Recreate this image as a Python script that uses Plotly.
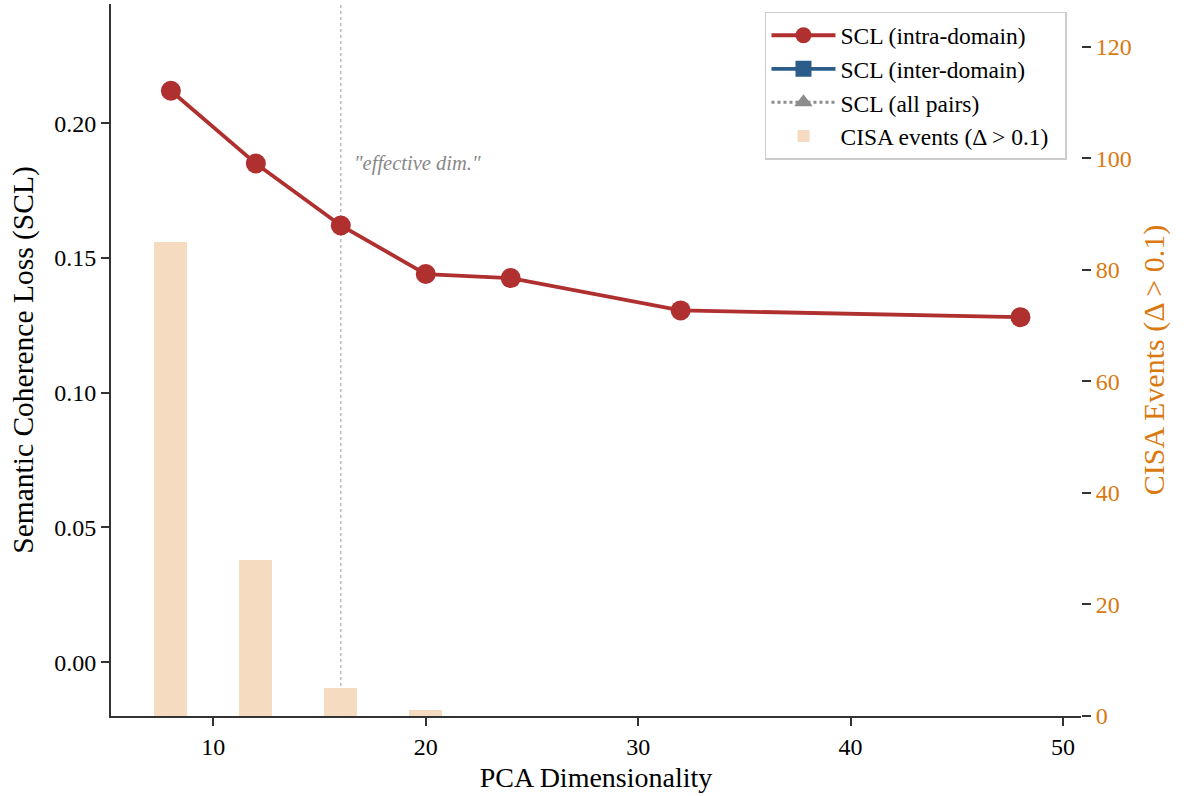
import plotly.graph_objects as go

dims = [8, 12, 16, 20, 24, 32, 48]
scl_intra = [0.212, 0.185, 0.162, 0.144, 0.1425, 0.1305, 0.128]
scl_inter = [None]
scl_all = [None]
cisa_dims = [8, 12, 16, 20]
cisa_events = [85, 28, 5, 1]
effective_dim = 16

FONT = "Liberation Serif"
ORANGE = "#d9790f"
RED = "#b03030"

fig = go.Figure()

fig.add_trace(go.Bar(
    x=cisa_dims, y=cisa_events, width=1.55, yaxis="y",
    marker=dict(color="#f5dcc1", line=dict(width=0)),
    name="CISA events (Δ > 0.1)\u00a0\u00a0", legendrank=4,
))
fig.add_trace(go.Scatter(
    x=dims, y=scl_intra, yaxis="y2", mode="lines+markers",
    line=dict(color=RED, width=3.8), marker=dict(size=20, color=RED),
    name="SCL (intra-domain)", legendrank=1,
))
fig.add_trace(go.Scatter(
    x=[None], y=scl_inter, yaxis="y2", mode="lines+markers",
    line=dict(color="#2c5d8a", width=3.8), marker=dict(size=16, symbol="square", color="#2c5d8a"),
    name="SCL (inter-domain)", legendrank=2,
))
fig.add_trace(go.Scatter(
    x=[None], y=scl_all, yaxis="y2", mode="lines+markers",
    line=dict(color="#8c8c8c", width=3, dash="dot"), marker=dict(size=16, symbol="triangle-up", color="#8c8c8c"),
    name="SCL (all pairs)", legendrank=3,
))

fig.add_shape(type="line", x0=effective_dim, x1=effective_dim, y0=0, y1=1,
              xref="x", yref="paper", line=dict(color="#bbbbbb", width=1.5, dash="dot"), layer="below")
fig.add_annotation(x=effective_dim + 0.55, y=0.1852, xref="x", yref="y2", text="<i>\"effective dim.\"</i>",
                   showarrow=False, xanchor="left", yanchor="middle",
                   font=dict(family=FONT, size=20.5, color="#888888"))

fig.update_layout(
    width=1185, height=796,
    margin=dict(l=111, r=104, t=4, b=80),
    plot_bgcolor="white", paper_bgcolor="white",
    font=dict(family=FONT, size=24, color="black"),
    bargap=0,
    xaxis=dict(
        range=[5.18, 50.85], tickvals=[10, 20, 30, 40, 50], automargin=False,
        showline=True, linecolor="#333333", linewidth=2,
        ticks="outside", ticklen=8, tickwidth=1.5, tickcolor="#333333",
        tickfont=dict(size=24),
        showgrid=False, zeroline=False,
        title=dict(text="PCA Dimensionality", font=dict(size=28), standoff=9),
    ),
    yaxis=dict(
        side="right", range=[0, 127.7], tickvals=[0, 20, 40, 60, 80, 100, 120], automargin=False,
        ticks="outside", ticklen=9, tickwidth=1.5, tickcolor="#333333",
        tickfont=dict(color=ORANGE, size=24),
        showline=False, showgrid=False, zeroline=False,
        title=dict(text="CISA Events (Δ > 0.1)", font=dict(color=ORANGE, size=30), standoff=12),
    ),
    yaxis2=dict(
        side="left", overlaying="y", range=[-0.02, 0.2442], automargin=False,
        tickvals=[0.0, 0.05, 0.10, 0.15, 0.20], tickformat=".2f",
        showline=True, linecolor="#333333", linewidth=2,
        ticks="outside", ticklen=8, tickwidth=1.5, tickcolor="#333333",
        tickfont=dict(size=24),
        showgrid=False, zeroline=False,
        title=dict(text="Semantic Coherence Loss (SCL)", font=dict(size=29.5), standoff=12),
    ),
    legend=dict(
        x=0.6742, y=0.9888, xanchor="left", yanchor="top",
        bgcolor="rgba(255,255,255,0.9)", bordercolor="#cccccc", borderwidth=1.5,
        font=dict(family=FONT, size=23.5), itemwidth=64, tracegroupgap=4,
    ),
    showlegend=True,
)

fig.write_html("out.html", config={"displayModeBar": False},
               post_script="document.body.style.margin='0';")
